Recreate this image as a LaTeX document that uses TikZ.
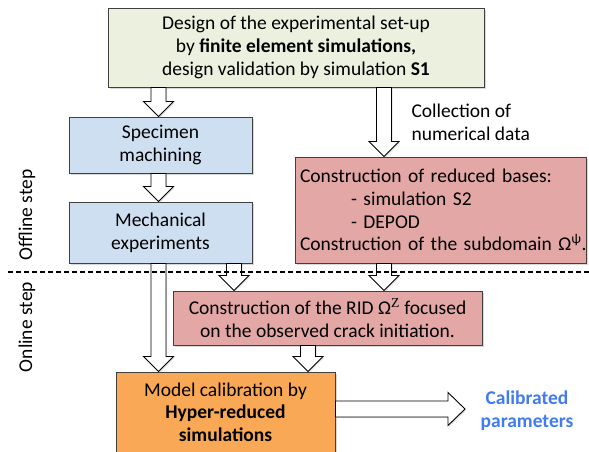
\documentclass[tikz,border=0pt]{standalone}
\usepackage{fontspec}
\setmainfont{Carlito}
\newfontfamily\zserif{Liberation Serif}
\usetikzlibrary{shadows,calc}
\definecolor{topfill}{RGB}{235,240,223}
\definecolor{bluefill}{RGB}{206,223,241}
\definecolor{pinkfill}{RGB}{227,167,166}
\definecolor{orangefill}{RGB}{249,168,86}
\definecolor{edge}{RGB}{64,64,64}
\definecolor{calblue}{RGB}{64,124,240}
\newcommand\downarr[3]{%
  \draw[barrow] let \p1=(#1 |- #2), \p2=(#1 |- #3) in
    (\x1-7.5pt,\y1) -- (\x1+7.5pt,\y1) -- (\x1+7.5pt,\y2+15pt) -- (\x1+15pt,\y2+15pt)
    -- (\x1,\y2) -- (\x1-15pt,\y2+15pt) -- (\x1-7.5pt,\y2+15pt) -- cycle;}
\begin{document}
\begin{tikzpicture}[x=1pt,y=-1pt,
  txt/.style={font=\fontsize{19.5}{22.7}\selectfont},
  box/.style={txt,draw=edge,line width=1pt,inner sep=0pt,align=center,
    drop shadow={opacity=0.3,shadow xshift=1.5pt,shadow yshift=-1.5pt}},
  barrow/.style={draw=black,fill=white,line width=0.9pt,line join=miter,
    drop shadow={opacity=0.25,shadow xshift=1.2pt,shadow yshift=-1.2pt}},
  stepline/.style={line width=1.6pt,dash pattern=on 5pt off 3pt}]
\useasboundingbox[fill=white] (0,0) rectangle (589,451);

\node[box,fill=topfill,minimum width=376pt,minimum height=79pt] (top) at (296,47.5)
  {Design of the experimental set-up\\ by \textbf{finite element simulations,}\\ design validation by simulation \textbf{S1}};
\node[box,fill=bluefill,minimum width=183pt,minimum height=56pt] (spec) at (160.5,145)
  {Specimen\\ machining};
\node[box,fill=bluefill,minimum width=183pt,minimum height=61pt] (mech) at (160.5,232.5)
  {Mechanical\\ experiments};
\node[box,fill=pinkfill,minimum height=106pt,text width=281pt,inner xsep=5pt,align=left] (red) at (440.5,210)
  {Construction of reduced bases:\\ \hspace*{51pt}- simulation S2\\ \hspace*{51pt}- DEPOD\\ \mbox{Construction of the subdomain Ω\textsuperscript{ψ}.}};
\node[box,fill=pinkfill,minimum width=309pt,minimum height=54pt] (rid) at (327.5,318)
  {Construction of the RID Ω\textsuperscript{\zserif Z} focused\\ on the observed crack initiation.};
\node[box,fill=orangefill,minimum width=219pt,minimum height=80pt] (cal) at (225.5,412)
  {Model calibration by\\ \textbf{Hyper-reduced}\\ \textbf{simulations}};
\node[txt,align=center,text=calblue,font=\fontsize{19.5}{22.7}\selectfont\bfseries] (param) at (527,411)
  {Calibrated\\ parameters};
\node[txt,anchor=west,align=left] (coll) at (408,122) {Collection of\\ numerical data};
\node[txt,rotate=90] (off) at (27,215) {Offline step};
\node[txt,rotate=90] (on) at (27,327) {Online step};

\coordinate (xa) at (158.5,0);
\coordinate (xb) at (384,0);
\coordinate (xc) at (234,0);
\coordinate (xd) at (308,0);
\coordinate (tipout) at (465,409);

\downarr{xa}{top.south}{spec.north}
\downarr{xa}{spec.south}{mech.north}
\downarr{xb}{top.south}{red.north}
\downarr{xa}{mech.south}{cal.north}
\downarr{xc}{mech.south}{rid.north}
\downarr{xb}{red.south}{rid.north}
\downarr{xd}{rid.south}{cal.north}

\draw[barrow] let \p1=(cal.east |- tipout), \p2=(tipout) in
  (\x1,\y1+8pt) -- (\x2-17pt,\y1+8pt) -- (\x2-17pt,\y1+16.5pt) -- (\x2,\y2)
  -- (\x2-17pt,\y1-16.5pt) -- (\x2-17pt,\y1-8pt) -- (\x1,\y1-8pt) -- cycle;

\coordinate (dl) at (8,272);
\coordinate (dr) at (589,272);
\draw[stepline] (dl) -- (dr);
\end{tikzpicture}
\end{document}
